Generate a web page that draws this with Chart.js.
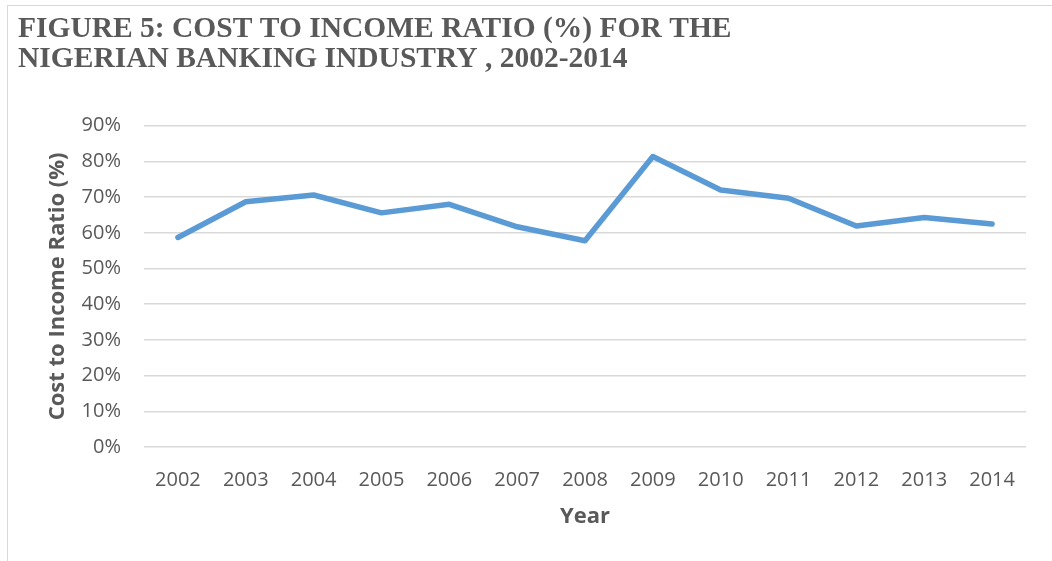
<!DOCTYPE html>
<html>
<head>
<meta charset="utf-8">
<script src="https://cdn.jsdelivr.net/npm/chart.js@4/dist/chart.umd.min.js"></script>
<style>
  body { margin: 0; background: #fff; }
  #frame { position: absolute; left: 7px; top: 5px; width: 1100px; height: 600px; border: 1px solid #d9d9d9; }
  #grafico { position: absolute; left: 0; top: 0; }
</style>
</head>
<body>
<div id="frame"></div>
<canvas id="grafico" width="1052" height="561"></canvas>
<script>
const anos = ['2002', '2003', '2004', '2005', '2006', '2007', '2008', '2009', '2010', '2011', '2012', '2013', '2014'];
const razaoCusto = [58.7, 68.7, 70.6, 65.6, 68.0, 61.7, 57.8, 81.4, 72.0, 69.7, 61.9, 64.3, 62.5];
const tituloLinhas = ['FIGURE 5: COST TO INCOME RATIO (%) FOR THE', 'NIGERIAN BANKING INDUSTRY , 2002-2014'];

const cinza = '#595959';
const sans = "'Open Sans', sans-serif";

new Chart(document.getElementById('grafico'), {
    type: 'line',
    data: {
        labels: anos,
        datasets: [{
            label: 'Cost to Income Ratio',
            data: razaoCusto,
            borderColor: '#5b9bd5',
            backgroundColor: '#5b9bd5',
            borderWidth: 5.5,
            borderCapStyle: 'round',
            borderJoinStyle: 'round',
            pointRadius: 0,
            tension: 0
        }]
    },
    options: {
        responsive: false,
        animation: false,
        layout: { padding: { left: 18, right: 26, top: 0, bottom: 0 } },
        plugins: {
            legend: { display: false },
            tooltip: { enabled: false },
            title: {
                display: true,
                text: tituloLinhas,
                align: 'start',
                color: cinza,
                font: { family: "'Liberation Serif', serif", size: 29.5, weight: 'bold', lineHeight: 1.03 },
                padding: { top: 14, bottom: 51 }
            }
        },
        scales: {
            x: {
                offset: true,
                grid: { display: false, drawTicks: false },
                border: { display: false },
                ticks: { color: cinza, font: { family: sans, size: 20 }, padding: 21, maxRotation: 0 },
                title: { display: true, text: 'Year', color: cinza, font: { family: sans, size: 22, weight: 'bold' }, padding: { top: 0, bottom: 31 } },
                afterFit: (eixo) => { eixo.height = 114; }
            },
            y: {
                min: 0,
                max: 90,
                grid: { color: '#d9d9d9', lineWidth: 1.5, drawTicks: false },
                border: { display: false },
                ticks: {
                    stepSize: 10,
                    color: cinza,
                    font: { family: sans, size: 20 },
                    padding: 23,
                    callback: (v) => v + '%'
                },
                title: { display: true, text: 'Cost to Income Ratio (%)', color: cinza, font: { family: sans, size: 22, weight: 'bold' }, padding: { top: 27, bottom: 0 } },
                afterFit: (eixo) => { eixo.width = 126; }
            }
        }
    }
});
</script>
</body>
</html>
